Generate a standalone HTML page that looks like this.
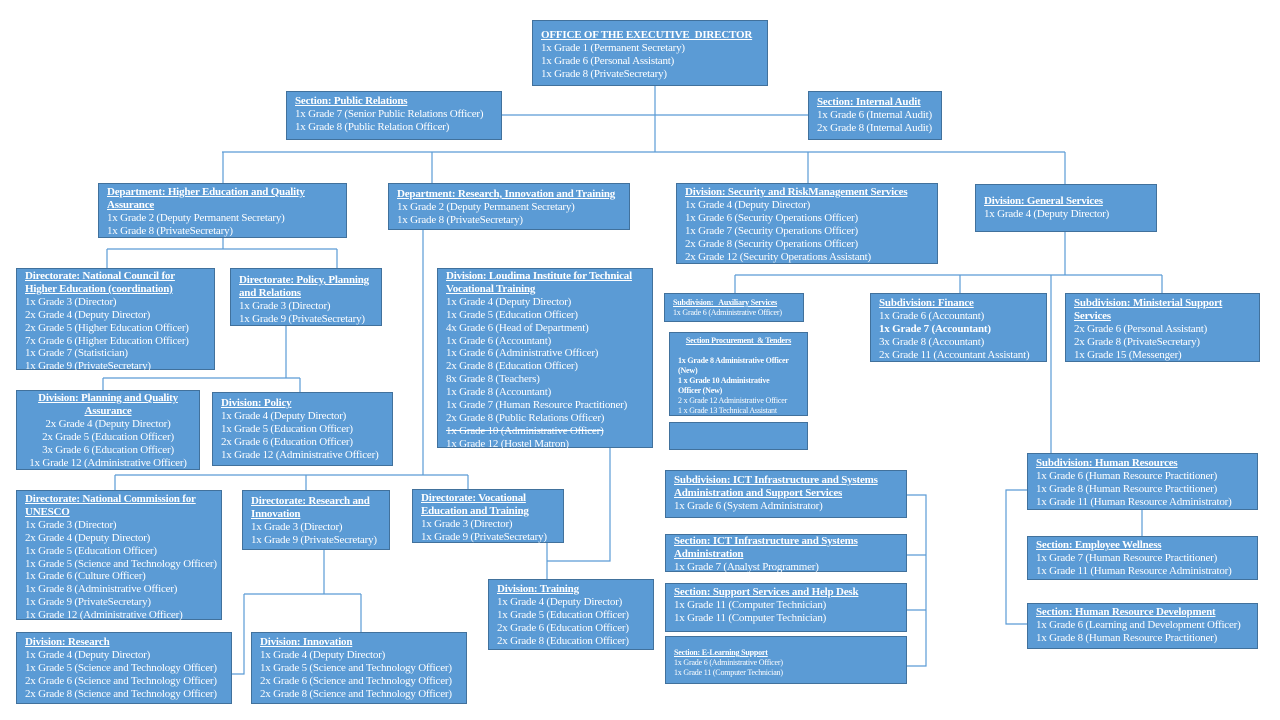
<!DOCTYPE html>
<html><head><meta charset="utf-8"><style>
body{margin:0;width:1280px;height:720px;background:#fff;position:relative;overflow:hidden}
.b{position:absolute;box-sizing:border-box;background:#5b9bd5;border:1px solid #41719c;color:#fff;font-family:"Liberation Serif",serif;font-size:11px;line-height:12.9px;letter-spacing:-0.2px;padding:2px 8px;white-space:nowrap}
.b u{font-weight:bold}
.s{font-size:8px;line-height:10px;letter-spacing:-0.2px}
.c{text-align:center}
svg{position:absolute;left:0;top:0}
</style></head><body>
<svg width="1280" height="720" fill="none" stroke="#5b9bd5" stroke-width="1.2">
<path d="M655 86V152M502 115H808M222 152H1065M223 152V183M432 152V183M808 152V183M1065 152V184"/>
<path d="M223 238V249M107 249H337M107 249V268M337 249V268"/>
<path d="M286 326V378M103 378H300M103 378V390M300 378V392"/>
<path d="M423 230V475M115 475H468M115 475V490M306 475V490M468 475V489"/>
<path d="M324 550V594M244 594H361M244 594V674H232M361 594V632"/>
<path d="M547 543V579M610 448V561H547"/>
<path d="M1065 232V275M735 275H1162M735 275V293M960 275V293M1162 275V293M1051 275V453"/>
<path d="M1142 510V536M1027 490H1006V624H1027"/>
<path d="M907 495H926V666H907M907 555H926M907 610H926"/>
</svg>

<div class="b" style="left:532px;top:20px;width:236px;height:66px;padding-top:8px"><u>OFFICE OF THE EXECUTIVE&nbsp; DIRECTOR</u><br>1x Grade 1 (Permanent Secretary)<br>1x Grade 6 (Personal Assistant)<br>1x Grade 8 (PrivateSecretary)</div>
<div class="b" style="left:286px;top:91px;width:216px;height:49px;padding-top:3px"><u>Section: Public Relations</u><br>1x Grade 7 (Senior Public Relations Officer)<br>1x Grade 8 (Public Relation Officer)</div>
<div class="b" style="left:808px;top:91px;width:134px;height:49px;padding-top:4px"><u>Section: Internal Audit</u><br>1x Grade 6 (Internal Audit)<br>2x Grade 8 (Internal Audit)</div>

<div class="b" style="left:98px;top:183px;width:249px;height:55px;padding-top:2px"><u>Department: Higher Education and Quality<br>Assurance</u><br>1x Grade 2 (Deputy Permanent Secretary)<br>1x Grade 8 (PrivateSecretary)</div>
<div class="b" style="left:388px;top:183px;width:242px;height:47px;padding-top:4px"><u>Department: Research, Innovation and Training</u><br>1x Grade 2 (Deputy Permanent Secretary)<br>1x Grade 8 (PrivateSecretary)</div>
<div class="b" style="left:676px;top:183px;width:262px;height:81px;padding-top:2px"><u>Division: Security and RiskManagement Services</u><br>1x Grade 4 (Deputy Director)<br>1x Grade 6 (Security Operations Officer)<br>1x Grade 7 (Security Operations Officer)<br>2x Grade 8 (Security Operations Officer)<br>2x Grade 12 (Security Operations Assistant)</div>
<div class="b" style="left:975px;top:184px;width:182px;height:48px;padding-top:10px"><u>Division: General Services</u><br>1x Grade 4 (Deputy Director)</div>

<div class="b" style="left:16px;top:268px;width:199px;height:102px;padding-top:1px"><u>Directorate: National Council for<br>Higher Education (coordination)</u><br>1x Grade 3 (Director)<br>2x Grade 4 (Deputy Director)<br>2x Grade 5 (Higher Education Officer)<br>7x Grade 6 (Higher Education Officer)<br>1x Grade 7 (Statistician)<br>1x Grade 9 (PrivateSecretary)</div>
<div class="b" style="left:230px;top:268px;width:152px;height:58px;padding-top:5px"><u>Directorate: Policy, Planning<br>and Relations</u><br>1x Grade 3 (Director)<br>1x Grade 9 (PrivateSecretary)</div>
<div class="b" style="left:437px;top:268px;width:216px;height:180px;padding-top:1px"><u>Division: Loudima Institute for Technical<br>Vocational Training</u><br>1x Grade 4 (Deputy Director)<br>1x Grade 5 (Education Officer)<br>4x Grade 6 (Head of Department)<br>1x Grade 6 (Accountant)<br>1x Grade 6 (Administrative Officer)<br>2x Grade 8 (Education Officer)<br>8x Grade 8 (Teachers)<br>1x Grade 8 (Accountant)<br>1x Grade 7 (Human Resource Practitioner)<br>2x Grade 8 (Public Relations Officer)<br><s>1x Grade 10 (Administrative Officer)</s><br>1x Grade 12 (Hostel Matron)</div>

<div class="b c" style="left:16px;top:390px;width:184px;height:80px;padding:1px 2px"><u>Division: Planning and Quality<br>Assurance</u><br>2x Grade 4 (Deputy Director)<br>2x Grade 5 (Education Officer)<br>3x Grade 6 (Education Officer)<br>1x Grade 12 (Administrative Officer)</div>
<div class="b" style="left:212px;top:392px;width:181px;height:74px;padding-top:4px"><u>Division: Policy</u><br>1x Grade 4 (Deputy Director)<br>1x Grade 5 (Education Officer)<br>2x Grade 6 (Education Officer)<br>1x Grade 12 (Administrative Officer)</div>

<div class="b" style="left:664px;top:293px;width:140px;height:29px;padding-top:4px"><div class="s"><u>Subdivision:&nbsp;&nbsp; Auxiliary Services</u><br>1x Grade 6 (Administrative Officer)</div></div>
<div class="b" style="left:669px;top:332px;width:139px;height:84px;padding-top:3px"><div class="s"><div class="c"><u>Section Procurement&nbsp; &amp; Tenders</u></div><br><b>1x Grade 8 Administrative Officer<br>(New)<br>1 x Grade 10 Administrative<br>Officer (New)</b><br>2 x Grade 12 Administrative Officer<br>1 x Grade 13 Technical Assistant</div></div>
<div class="b" style="left:669px;top:422px;width:139px;height:28px"></div>
<div class="b" style="left:870px;top:293px;width:177px;height:69px;padding-top:3px"><u>Subdivision: Finance</u><br>1x Grade 6 (Accountant)<br><b>1x Grade 7 (Accountant)</b><br>3x Grade 8 (Accountant)<br>2x Grade 11 (Accountant Assistant)</div>
<div class="b" style="left:1065px;top:293px;width:195px;height:69px;padding-top:3px"><u>Subdivision: Ministerial Support<br>Services</u><br>2x Grade 6 (Personal Assistant)<br>2x Grade 8 (PrivateSecretary)<br>1x Grade 15 (Messenger)</div>

<div class="b" style="left:16px;top:490px;width:206px;height:130px;padding-top:2px"><u>Directorate: National Commission for<br>UNESCO</u><br>1x Grade 3 (Director)<br>2x Grade 4 (Deputy Director)<br>1x Grade 5 (Education Officer)<br>1x Grade 5 (Science and Technology Officer)<br>1x Grade 6 (Culture Officer)<br>1x Grade 8 (Administrative Officer)<br>1x Grade 9 (PrivateSecretary)<br>1x Grade 12 (Administrative Officer)</div>
<div class="b" style="left:242px;top:490px;width:148px;height:60px;padding-top:4px"><u>Directorate: Research and<br>Innovation</u><br>1x Grade 3 (Director)<br>1x Grade 9 (PrivateSecretary)</div>
<div class="b" style="left:412px;top:489px;width:152px;height:54px;padding-top:2px"><u>Directorate: Vocational<br>Education and Training</u><br>1x Grade 3 (Director)<br>1x Grade 9 (PrivateSecretary)</div>
<div class="b" style="left:488px;top:579px;width:166px;height:71px;padding-top:3px"><u>Division: Training</u><br>1x Grade 4 (Deputy Director)<br>1x Grade 5 (Education Officer)<br>2x Grade 6 (Education Officer)<br>2x Grade 8 (Education Officer)</div>
<div class="b" style="left:16px;top:632px;width:216px;height:72px;padding-top:3px"><u>Division: Research</u><br>1x Grade 4 (Deputy Director)<br>1x Grade 5 (Science and Technology Officer)<br>2x Grade 6 (Science and Technology Officer)<br>2x Grade 8 (Science and Technology Officer)</div>
<div class="b" style="left:251px;top:632px;width:216px;height:72px;padding-top:3px"><u>Division: Innovation</u><br>1x Grade 4 (Deputy Director)<br>1x Grade 5 (Science and Technology Officer)<br>2x Grade 6 (Science and Technology Officer)<br>2x Grade 8 (Science and Technology Officer)</div>

<div class="b" style="left:665px;top:470px;width:242px;height:48px;padding-top:3px"><u>Subdivision: ICT Infrastructure and Systems<br>Administration and Support Services</u><br>1x Grade 6 (System Administrator)</div>
<div class="b" style="left:665px;top:534px;width:242px;height:38px;padding-top:0px"><u>Section: ICT Infrastructure and Systems<br>Administration</u><br>1x Grade 7 (Analyst Programmer)</div>
<div class="b" style="left:665px;top:583px;width:242px;height:49px;padding-top:2px"><u>Section: Support Services and Help Desk</u><br>1x Grade 11 (Computer Technician)<br>1x Grade 11 (Computer Technician)</div>
<div class="b" style="left:665px;top:636px;width:242px;height:48px;padding-top:11px"><div class="s"><u>Section: E-Learning Support</u><br>1x Grade 6 (Administrative Officer)<br>1x Grade 11 (Computer Technician)</div></div>

<div class="b" style="left:1027px;top:453px;width:231px;height:57px;padding-top:3px"><u>Subdivision: Human Resources</u><br>1x Grade 6 (Human Resource Practitioner)<br>1x Grade 8 (Human Resource Practitioner)<br>1x Grade 11 (Human Resource Administrator)</div>
<div class="b" style="left:1027px;top:536px;width:231px;height:44px;padding-top:2px"><u>Section: Employee Wellness</u><br>1x Grade 7 (Human Resource Practitioner)<br>1x Grade 11 (Human Resource Administrator)</div>
<div class="b" style="left:1027px;top:603px;width:231px;height:46px;padding-top:2px"><u>Section: Human Resource Development</u><br>1x Grade 6 (Learning and Development Officer)<br>1x Grade 8 (Human Resource Practitioner)</div>
</body></html>
